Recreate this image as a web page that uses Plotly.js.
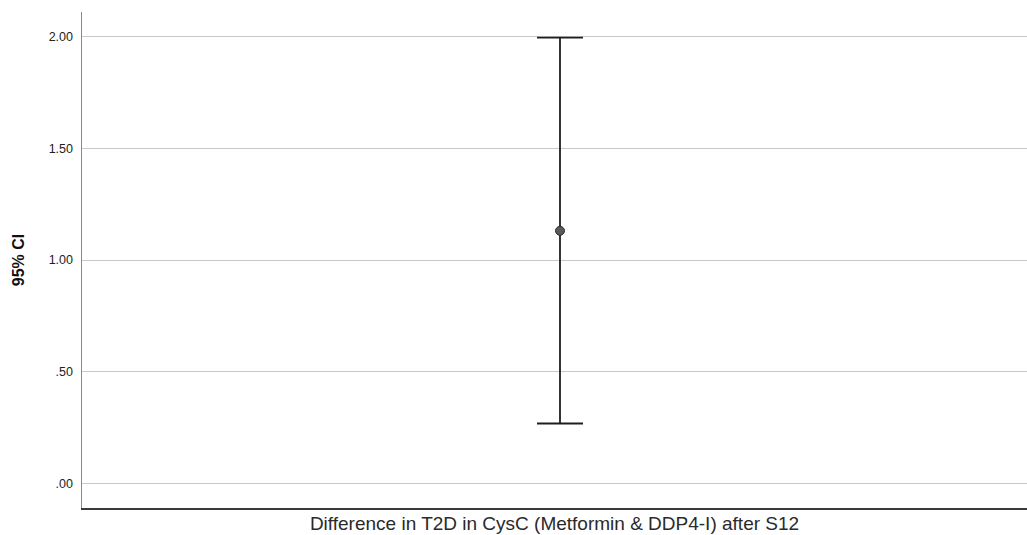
<!DOCTYPE html>
<html>
<head>
<meta charset="utf-8">
<script src="https://cdn.plot.ly/plotly-3.0.1.min.js"></script>
<style>html,body{margin:0;padding:0;background:#fff;}#chart{width:1027px;height:535px;}</style>
</head>
<body>
<div id="chart"></div>
<script>
const categories = ["Difference in T2D in CysC (Metformin & DDP4-I) after S12"];
const means = [1.131];
const upperCI = [1.995];
const lowerCI = [0.269];
const tickVals = [0, 0.5, 1, 1.5, 2];
const tickLabels = [".00", ".50", "1.00", "1.50", "2.00"];

const errPlus = means.map((m, i) => upperCI[i] - m);
const errMinus = means.map((m, i) => m - lowerCI[i]);

const trace = {
  type: "scatter",
  mode: "markers",
  x: categories,
  y: means,
  marker: {size: 9, color: "#5a5a5a", line: {color: "#2a2a2a", width: 1}},
  error_y: {type: "data", symmetric: false, array: errPlus, arrayminus: errMinus,
            color: "#1e1e1e", thickness: 1.8, width: 23},
  hoverinfo: "skip",
  showlegend: false
};

const layout = {
  width: 1027, height: 535,
  paper_bgcolor: "#fff", plot_bgcolor: "#fff",
  margin: {l: 82, r: 0, t: 12, b: 27},
  font: {family: "Liberation Sans, Arial, sans-serif", color: "#222"},
  xaxis: {
    type: "category",
    range: [-0.5, 0.4885],
    showticklabels: false, ticks: "",
    showgrid: false, zeroline: false,
    showline: true, linecolor: "#3a3a3a", linewidth: 1.5,
    title: {text: categories[0], font: {size: 19, color: "#2a2a2a"}, standoff: 8},
    automargin: false
  },
  yaxis: {
    range: [-0.109, 2.11],
    tickvals: tickVals, ticktext: tickLabels,
    tickfont: {size: 12.5, color: "#222"},
    ticks: "", ticklen: 0, ticklabelstandoff: 5,
    showgrid: true, gridcolor: "#c8c8c8", gridwidth: 1.2,
    zeroline: false,
    showline: true, linecolor: "#8a8a8a", linewidth: 1.5,
    title: {text: "<b>95% CI</b>", font: {size: 16, color: "#111"}, standoff: 20},
    automargin: false
  }
};

Plotly.newPlot("chart", [trace], layout, {staticPlot: true, displayModeBar: false});
</script>
</body>
</html>
